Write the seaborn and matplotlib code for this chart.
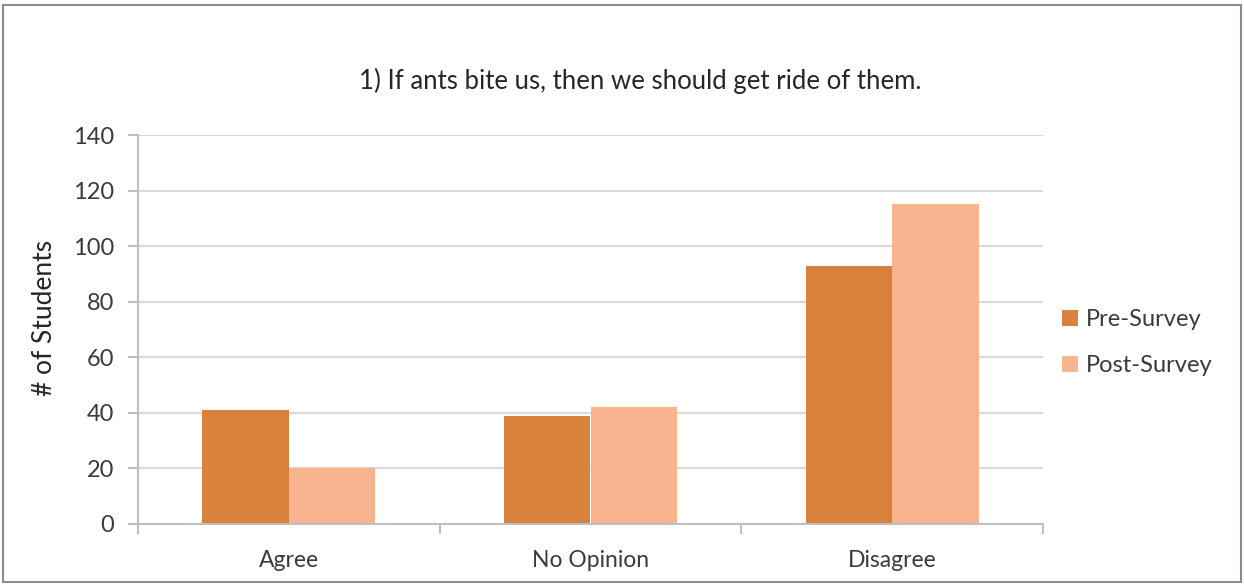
import matplotlib
matplotlib.use("Agg")
import matplotlib.pyplot as plt
from matplotlib.patches import Rectangle
import seaborn as sns
import pandas as pd

# Survey responses
categories = ["Agree", "No Opinion", "Disagree"]
pre_survey = [41, 39, 93]
post_survey = [20, 42, 115]
series_names = ["Pre-Survey", "Post-Survey"]
y_ticks = [0, 20, 40, 60, 80, 100, 120, 140]

df = pd.DataFrame({
    "Response": categories * 2,
    "Students": pre_survey + post_survey,
    "Survey": [series_names[0]] * 3 + [series_names[1]] * 3,
})

sns.set_theme(style="white")
plt.rcParams["font.family"] = ["Lato", "DejaVu Sans"]

W, H = 1244, 584
fig = plt.figure(figsize=(W / 100, H / 100), dpi=100)
ax = fig.add_axes([138 / W, 1 - 524 / H, (1043 - 138) / W, (524 - 135) / H])

palette = {"Pre-Survey": "#D9823D", "Post-Survey": "#F8B48F"}
sns.barplot(data=df, x="Response", y="Students", hue="Survey", order=categories,
            hue_order=series_names, palette=palette, width=0.574, saturation=1,
            linewidth=0, ax=ax, legend=True)

ax.set_ylim(0, 140)
ax.set_xlim(-0.5, 2.5)
ax.set_yticks(y_ticks)
ax.yaxis.grid(True, color="#D9D9D9", linewidth=1.5)
ax.set_axisbelow(True)
for s in ["top", "right"]:
    ax.spines[s].set_visible(False)
for s in ["left", "bottom"]:
    ax.spines[s].set_color("#BFBFBF")
    ax.spines[s].set_linewidth(1.5)

text_color = "#3A3A3A"
ax.tick_params(axis="y", length=7, width=1.5, color="#BFBFBF", left=True,
               labelsize=17, labelcolor=text_color, pad=10)
ax.set_xticks(range(len(categories)))
ax.set_xticklabels(categories)
ax.tick_params(axis="x", which="major", length=0, labelsize=16.5,
               labelcolor=text_color, pad=19)
ax.set_xticks([-0.5, 0.5, 1.5, 2.5], minor=True)
ax.tick_params(axis="x", which="minor", length=7, width=1.5, color="#BFBFBF",
               bottom=True)

ax.set_xlabel("")
ax.set_ylabel("# of Students", fontsize=19, color="#262626")
ax.yaxis.set_label_coords(-0.09, 0.53)

fig.text(640 / W, 1 - 81 / H, "1) If ants bite us, then we should get ride of them.",
         ha="center", va="center", fontsize=18.5, color="#262626")

leg = ax.legend(loc="center left", bbox_to_anchor=(0.998, 0.466), frameon=False,
                fontsize=17, handlelength=0.65, handleheight=0.65,
                handletextpad=0.35, labelspacing=1.04)
for t in leg.get_texts():
    t.set_color(text_color)

# Outer frame around the chart
fig.patches.append(Rectangle((3 / W, 2 / H), (W - 6) / W, (H - 7) / H,
                             transform=fig.transFigure, fill=False,
                             edgecolor="#8C8C8C", linewidth=1.5))

fig.savefig("out.png", dpi=100)
